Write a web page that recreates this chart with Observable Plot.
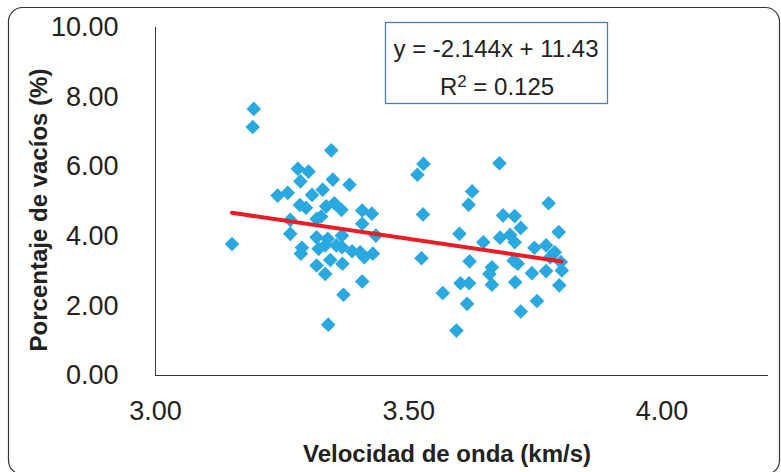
<!DOCTYPE html>
<html><head><meta charset="utf-8">
<script src="https://cdn.jsdelivr.net/npm/d3@7"></script>
<script src="https://cdn.jsdelivr.net/npm/@observablehq/plot@0.6"></script>
<style>body{margin:0;background:#fff} svg{display:block}</style>
</head><body><div id="chart"></div>
<script>
const velocidad = [
 3.194,3.192,3.347,3.281,3.302,3.286,3.350,3.383,3.241,3.261,3.309,3.330,3.285,3.297,3.337,3.353,
 3.367,3.408,3.427,3.408,3.266,3.318,3.327,3.266,3.435,3.151,3.318,3.340,3.368,3.289,3.287,3.322,
 3.335,3.357,3.368,3.388,3.404,3.412,3.429,3.318,3.345,3.369,3.335,3.408,3.371,3.341,
 3.529,3.517,3.679,3.625,3.618,3.776,3.528,3.686,3.709,3.721,3.796,3.600,3.680,3.700,3.709,3.647,
 3.748,3.771,3.788,3.525,3.620,3.779,3.707,3.715,3.800,3.802,3.664,3.659,3.743,3.771,3.602,3.619,
 3.664,3.710,3.797,3.567,3.615,3.753,3.721,3.594
];
const vacios = [
 7.66,7.14,6.47,5.94,5.86,5.58,5.63,5.48,5.17,5.25,5.19,5.34,4.90,4.82,4.86,4.95,
 4.76,4.74,4.65,4.36,4.47,4.50,4.57,4.07,4.02,3.78,3.97,3.93,4.02,3.67,3.50,3.64,
 3.74,3.74,3.69,3.57,3.54,3.40,3.50,3.16,3.32,3.21,2.92,2.70,2.32,1.46,
 6.08,5.77,6.10,5.29,4.91,4.95,4.63,4.60,4.58,4.24,4.12,4.07,3.96,4.04,3.83,3.83,
 3.67,3.74,3.54,3.37,3.28,3.40,3.30,3.21,3.26,3.02,3.11,2.92,2.94,3.00,2.65,2.65,
 2.61,2.68,2.59,2.37,2.06,2.14,1.84,1.29
];
const xTicks = [3.0, 3.5, 4.0];
const yTicks = [0, 2, 4, 6, 8, 10];
const slope = -2.144;
const intercept = 11.43;
const eqLine = "y = -2.144x + 11.43";
const r2Parts = ["R", "2", " = 0.125"];
const xTitle = "Velocidad de onda (km/s)";
const yTitle = "Porcentaje de vacíos (%)";

const points = velocidad.map((v, i) => ({x: v, y: vacios[i]}));
const trend = d3.extent(velocidad).map(x => ({x, y: slope * x + intercept}));
const fmt = d3.format(".2f");
const font = "'Liberation Sans', Arial, Helvetica, sans-serif";

const chart = Plot.plot({
  width: 781, height: 472,
  marginLeft: 155, marginRight: 13, marginTop: 27, marginBottom: 97,
  style: {fontFamily: font, background: "#fff", color: "#222"},
  x: {domain: [3, 4.21]},
  y: {domain: [0, 10]},
  marks: [
    Plot.ruleY([0], {stroke: "#333", strokeWidth: 1}),
    Plot.ruleX([3], {stroke: "#333", strokeWidth: 1}),
    Plot.axisX(xTicks, {tickSize: 0, tickPadding: 25, tickFormat: fmt, fontSize: 27, label: null, fill: "#222"}),
    Plot.axisY(yTicks, {tickSize: 0, tickPadding: 37, tickFormat: fmt, fontSize: 27, label: null, fill: "#222"}),
    Plot.dot(points, {x: "x", y: "y", symbol: "diamond2", r: 6.6, fill: "#29a9e0"}),
    Plot.line(trend, {x: "x", y: "y", stroke: "#ec1c24", strokeWidth: 4})
  ]
});

const svg = d3.select(chart);
svg.append("rect")
  .attr("x", 8.5).attr("y", 7.5).attr("width", 771).attr("height", 467)
  .attr("rx", 14).attr("fill", "none").attr("stroke", "#333").attr("stroke-width", 1.2);
svg.append("rect")
  .attr("x", 385.5).attr("y", 22.5).attr("width", 222).attr("height", 81)
  .attr("fill", "#fff").attr("stroke", "#4a7ebb").attr("stroke-width", 1.3);
svg.append("text").attr("x", 496).attr("y", 57).attr("text-anchor", "middle")
  .attr("font-family", font).attr("font-size", 24).attr("fill", "#222").text(eqLine);
const r2 = svg.append("text").attr("x", 497).attr("y", 95).attr("text-anchor", "middle")
  .attr("font-family", font).attr("font-size", 24).attr("fill", "#222");
r2.append("tspan").text(r2Parts[0]);
r2.append("tspan").attr("font-size", 17).attr("dy", -8).text(r2Parts[1]);
r2.append("tspan").attr("dy", 8).text(r2Parts[2]);
svg.append("text").attr("x", 447).attr("y", 462).attr("text-anchor", "middle")
  .attr("font-family", font).attr("font-size", 24).attr("font-weight", "bold").attr("fill", "#222").text(xTitle);
svg.append("text").attr("transform", "translate(47,210) rotate(-90)").attr("text-anchor", "middle")
  .attr("font-family", font).attr("font-size", 24).attr("font-weight", "bold").attr("fill", "#222").text(yTitle);

document.getElementById("chart").append(chart);
</script>
</body></html>
